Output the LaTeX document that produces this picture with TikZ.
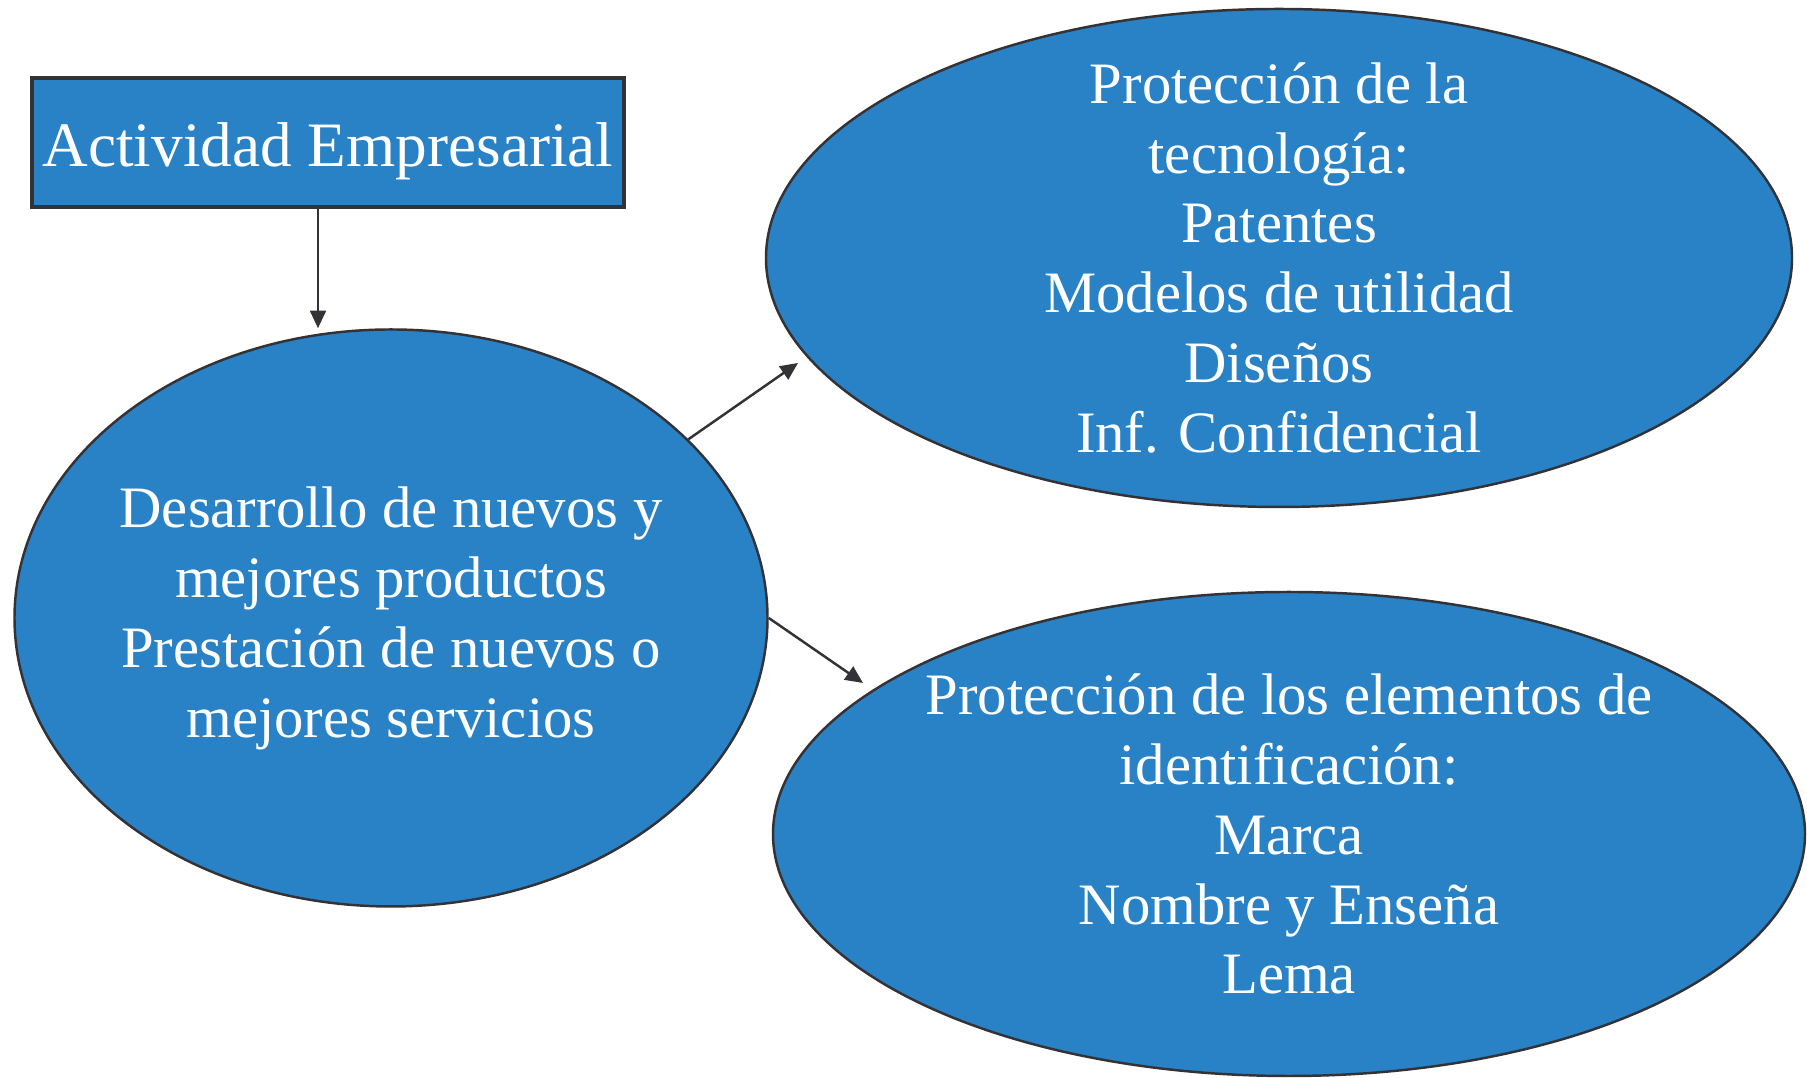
\documentclass[tikz,border=0pt]{standalone}
\usepackage{fontspec}
\setmainfont{Liberation Serif}
\usepackage{tikz}
\usetikzlibrary{arrows.meta, shapes.geometric}
\definecolor{boxblue}{RGB}{41,130,198}
\definecolor{edgegray}{RGB}{50,50,55}
\tikzset{every picture/.style={auto=center,
  every node/.style={fill=boxblue,draw=edgegray,text=white,align=center,inner sep=0pt}},
  actbox/.style={rectangle,line width=0.9pt,minimum width=5.92cm,minimum height=1.29cm,
    text height=0.49cm,text depth=0pt,font=\fontsize{18}{20}\selectfont},
  ovalnode/.style={ellipse,line width=0.7pt,inner sep=-2cm,
    font=\fontsize{16.7}{19.9}\selectfont},
  link/.style={draw=edgegray,line width=0.7pt,-{Triangle[length=5pt,width=4.5pt]}}}

\begin{document}
\begin{tikzpicture}
      \useasboundingbox (0,0) rectangle (18.07,10.78);

      \node[actbox] (act) at (3.28, 9.355){Actividad Empresarial};
      \node[ovalnode,minimum width=7.53cm,minimum height=5.77cm] (des) at (3.91, 4.60)
        {Desarrollo de nuevos y\\ mejores productos\\Prestación de nuevos o\\mejores servicios};
      \node[ovalnode,minimum width=10.26cm,minimum height=4.98cm] (tec) at (12.79, 8.20)
        {Protección de la\\ tecnología:\\Patentes\\Modelos de utilidad\\Diseños\\Inf. Confidencial};
      \node[ovalnode,minimum width=10.32cm,minimum height=4.84cm] (ide) at (12.89, 2.44)
        {Protección de los elementos de\\identificación:\\Marca\\Nombre y Enseña\\Lema};

      \coordinate (t1) at (7.98, 7.15);
      \coordinate (t2) at (8.63, 3.95);

      \draw[link]([xshift=-1mm]act.south)--([xshift=-1mm]act.south |- des.north);
      \draw[link](des.31)--(t1);
      \draw[link](des.east)--(t2);
    \end{tikzpicture}
\end{document}
